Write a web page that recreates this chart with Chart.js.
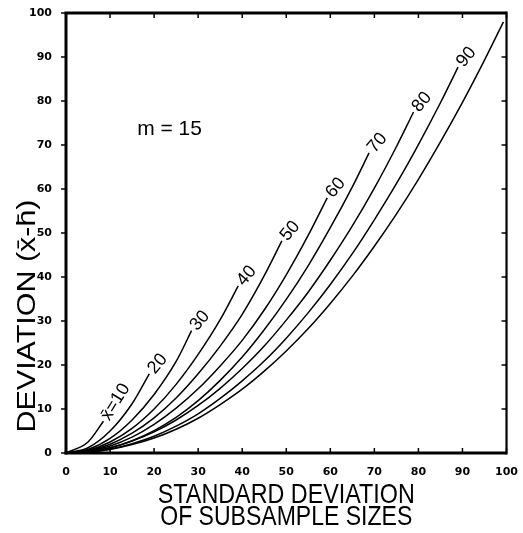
<!DOCTYPE html>
<html>
<head>
<meta charset="utf-8">
<script src="https://cdn.jsdelivr.net/npm/chart.js@4.4.0/dist/chart.umd.min.js"></script>
<style>
  html, body { margin: 0; padding: 0; background: #fff; }
</style>
</head>
<body>
<canvas id="chart" width="523" height="533"></canvas>
<script>
// standard deviation grid shared by all curves
const sdGrid = [0, 5, 10, 15, 20, 25, 30, 35, 40, 45, 50, 55, 60, 65, 70, 75, 80, 85, 90, 95, 100];

// deviation, one array per mean (x-bar)
const dev10 = [0, 2.5];
const dev20 = [0, 1.2, 5.0, 11.2];
const dev30 = [0, 0.8, 3.3, 7.5, 13.3, 20.8];
const dev40 = [0, 0.6, 2.5, 5.6, 10.0, 15.6, 22.4, 30.3];
const dev50 = [0, 0.5, 2.0, 4.5, 8.0, 12.5, 18.0, 24.3, 31.5, 40.3];
const dev60 = [0, 0.4, 1.6, 3.6, 6.5, 10.2, 14.6, 19.8, 25.6, 32.5, 40.5, 49.5];
const dev70 = [0, 0.3, 1.2, 2.8, 5.1, 8.1, 11.9, 16.5, 21.8, 28.0, 34.9, 42.6, 51.2, 60.5];
const dev80 = [0, 0.3, 1.2, 2.7, 4.8, 7.5, 10.8, 14.7, 19.2, 24.3, 30.2, 36.6, 43.8, 51.6, 60.2, 69.6];
const dev90 = [0, 0.2, 0.9, 2.1, 3.8, 6.1, 8.9, 12.4, 16.4, 20.9, 26.1, 31.9, 38.3, 45.3, 53.0, 61.2, 70.1, 79.6];
const dev100 = [0, 0.2, 0.8, 1.9, 3.4, 5.4, 7.9, 11.0, 14.5, 18.6, 23.2, 28.3, 34.0, 40.2, 47.0, 54.3, 62.2, 70.7, 79.7, 89.3];

// where each curve stops
const endSd = [8.5, 18.9, 28.5, 39.1, 49.0, 59.3, 68.8, 78.9, 89.0, 99.3];
const endDev = [7.2, 18.0, 27.8, 38.0, 48.2, 58.0, 68.2, 77.5, 87.7, 98.0];

const curveLabels = ['x\u0304=10', '20', '30', '40', '50', '60', '70', '80', '90', ''];
const axisTicks = [0, 10, 20, 30, 40, 50, 60, 70, 80, 90, 100];

const curves = [dev10, dev20, dev30, dev40, dev50, dev60, dev70, dev80, dev90, dev100];

const datasets = curves.map((dev, k) => ({
    label: curveLabels[k] || 'x\u0304=100',
    data: dev.map((v, i) => ({ x: sdGrid[i], y: v })).concat([{ x: endSd[k], y: endDev[k] }]),
    borderColor: '#000',
    borderWidth: 1.5,
    pointRadius: 0,
    showLine: true,
    fill: false,
    cubicInterpolationMode: 'monotone'
}));

// draws text squeezed or stretched to a given width
const fitText = (ctx, t, cx, cy, width, rot) => {
    const w = ctx.measureText(t).width;
    ctx.save();
    ctx.translate(cx, cy);
    ctx.rotate(rot);
    ctx.scale(width / w, 1);
    ctx.fillText(t, 0, 0);
    ctx.restore();
};

// frame, inward ticks, curve labels and the axis titles
const decorations = {
    id: 'decorations',
    afterDatasetsDraw(chart) {
        const { ctx, scales: { x, y } } = chart;
        ctx.save();
        ctx.fillStyle = '#000';
        ctx.font = '18px "Liberation Sans", Arial, sans-serif';
        ctx.textAlign = 'left';
        ctx.textBaseline = 'middle';
        curveLabels.forEach((txt, k) => {
            if (!txt) return;
            const ex = x.getPixelForValue(endSd[k]);
            const ey = y.getPixelForValue(endDev[k]);
            const a = (k === 0 ? -58 : -50) * Math.PI / 180;
            ctx.save();
            ctx.translate(ex + 3 * Math.cos(a), ey + 3 * Math.sin(a));
            ctx.rotate(a);
            ctx.fillText(txt, 0, 0);
            ctx.restore();
        });

        // m = 15
        ctx.font = '21px "Liberation Sans", Arial, sans-serif';
        ctx.textAlign = 'center';
        ctx.fillText('m = 15', x.getPixelForValue(23.5), y.getPixelForValue(73.5));
        ctx.restore();
    },
    afterDraw(chart) {
        const { ctx, chartArea: a, scales: { x, y } } = chart;
        const line = (x1, y1, x2, y2) => { ctx.beginPath(); ctx.moveTo(x1, y1); ctx.lineTo(x2, y2); ctx.stroke(); };
        ctx.save();
        ctx.strokeStyle = '#000';
        ctx.lineWidth = 1.5;
        axisTicks.forEach(v => {
            const px = x.getPixelForValue(v);
            line(px, a.bottom, px, a.bottom - 5);
            line(px, a.top, px, a.top + 5);
            const py = y.getPixelForValue(v);
            line(a.left, py, a.left - 5, py);
            line(a.right, py, a.right - 5, py);
        });
        ctx.lineWidth = 3;
        line(a.left, a.top, a.left, a.bottom + 1.5);
        line(a.left - 1.5, a.bottom, a.right, a.bottom);
        line(a.left - 1.5, a.top, a.right, a.top);
        ctx.lineWidth = 2.2;
        line(a.right, a.top - 1.5, a.right, a.bottom + 1.5);

        ctx.fillStyle = '#000';
        ctx.textAlign = 'center';
        ctx.textBaseline = 'middle';

        // y axis title
        ctx.font = '25px "Liberation Sans", Arial, sans-serif';
        fitText(ctx, 'DEVIATION (x\u0304-h\u0304)', 28, 316, 233, -Math.PI / 2);

        // x axis title, two lines
        ctx.font = '28px "Liberation Sans", Arial, sans-serif';
        const mid = (a.left + a.right) / 2;
        fitText(ctx, 'STANDARD DEVIATION', mid, 495, 257, 0);
        fitText(ctx, 'OF SUBSAMPLE SIZES', mid, 517, 252, 0);
        ctx.restore();
    }
};

const tickFont = { family: '"DejaVu Sans", sans-serif', size: 11, weight: 'bold' };

const ctx = document.getElementById('chart').getContext('2d');
const chart = new Chart(ctx, {
    type: 'scatter',
    data: { datasets },
    options: {
        responsive: false,
        animation: false,
        devicePixelRatio: 1,
        layout: { padding: { top: 13, right: 13, left: 0, bottom: 0 } },
        plugins: {
            legend: { display: false },
            tooltip: { enabled: false }
        },
        scales: {
            x: {
                type: 'linear',
                min: 0,
                max: 100,
                grid: { display: false },
                border: { display: false },
                ticks: { stepSize: 10, color: '#000', font: tickFont, padding: 5, maxRotation: 0 },
                afterFit: (scale) => { scale.height = 80; }
            },
            y: {
                type: 'linear',
                min: 0,
                max: 100,
                grid: { display: false },
                border: { display: false },
                ticks: { stepSize: 10, color: '#000', font: tickFont, padding: 6 },
                afterFit: (scale) => { scale.width = 66; }
            }
        }
    },
    plugins: [decorations]
});
</script>
</body>
</html>
